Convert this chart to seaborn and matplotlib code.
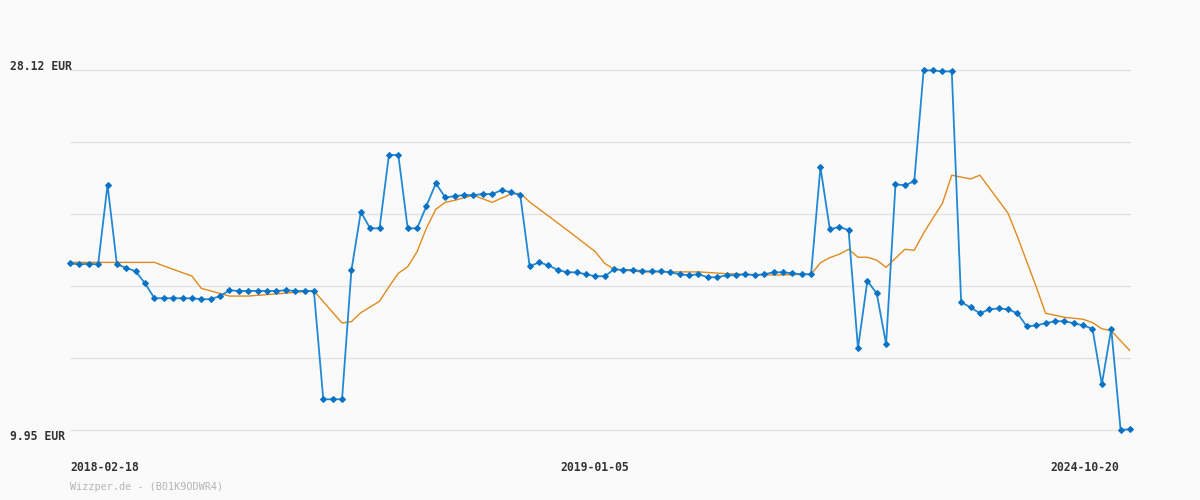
import seaborn as sns
import pandas as pd
import numpy as np
import matplotlib.pyplot as plt

#----- Data -----
price = [18.36, 18.31, 18.34, 18.31, 22.32, 18.31, 18.13, 17.96, 17.35, 16.60,
         16.60, 16.60, 16.60, 16.60, 16.55, 16.55, 16.71, 17.00, 16.97, 16.97,
         16.97, 16.97, 16.97, 17.00, 16.97, 16.97, 16.97, 11.50, 11.50, 11.50,
         18.01, 20.95, 20.13, 20.13, 23.83, 23.83, 20.13, 20.13, 21.26, 22.40,
         21.69, 21.75, 21.81, 21.80, 21.86, 21.86, 22.05, 21.96, 21.80, 18.21,
         18.41, 18.26, 18.03, 17.91, 17.91, 17.81, 17.71, 17.71, 18.06, 18.03,
         18.03, 17.96, 17.96, 17.96, 17.91, 17.81, 17.76, 17.81, 17.66, 17.66,
         17.76, 17.76, 17.81, 17.76, 17.81, 17.91, 17.91, 17.86, 17.81, 17.81,
         23.21, 20.08, 20.20, 20.04, 14.07, 17.47, 16.85, 14.28, 22.35, 22.30,
         22.50, 28.10, 28.10, 28.05, 28.05, 16.40, 16.14, 15.84, 16.04, 16.09,
         16.04, 15.84, 15.18, 15.23, 15.34, 15.44, 15.44, 15.34, 15.23, 15.06,
         12.26, 15.06, 9.95, 9.99]

# moving average, read at its visible vertices (index, value)
avg_idx = [0, 9, 10, 13, 14, 17, 19, 26, 29, 30, 31, 33, 34, 35, 36, 37, 38, 39, 40, 41,
           43, 45, 47, 48, 49, 53, 56, 57, 58, 61, 67, 70, 75, 79, 80, 81, 82, 83, 84, 85,
           86, 87, 88, 89, 90, 91, 92, 93, 94, 96, 97, 100, 101, 102, 103, 104, 106, 108,
           109, 110, 111, 113]
avg_val = [18.41, 18.41, 18.23, 17.72, 17.10, 16.71, 16.71, 16.97, 15.35, 15.42, 15.87,
           16.45, 17.18, 17.86, 18.19, 18.95, 20.15, 21.09, 21.44, 21.54, 21.80, 21.44,
           21.86, 21.90, 21.46, 20.04, 18.95, 18.36, 18.06, 17.93, 17.93, 17.84, 17.77,
           17.81, 18.39, 18.65, 18.82, 19.07, 18.67, 18.67, 18.52, 18.16, 18.62, 19.07,
           19.02, 19.89, 20.65, 21.39, 22.81, 22.62, 22.81, 20.89, 19.71, 18.44, 17.18,
           15.84, 15.64, 15.54, 15.37, 15.06, 14.96, 13.95]

y_min, y_max = 9.95, 28.12
y_labels = ["9.95 EUR", "28.12 EUR"]
x_labels = ["2018-02-18", "2019-01-05", "2024-10-20"]
x_label_idx = [0, 52.3, 104.5]
footer = "Wizzper.de - (B01K9ODWR4)"

df_price = pd.DataFrame({"idx": np.arange(len(price)), "price": price})
df_avg = pd.DataFrame({"idx": avg_idx, "avg": avg_val})

#----- Plot -----
sns.set_style("white")
bg = "#fafafa"
fig = plt.figure(figsize=(12, 5), dpi=100, facecolor=bg)
ax = fig.add_axes([70 / 1200, 70 / 500, 1060 / 1200, 360 / 500], facecolor=bg)

for v in np.linspace(y_min, y_max, 6):
    ax.axhline(v, color="#e2e2e2", lw=1, zorder=0, clip_on=False)

sns.lineplot(data=df_avg, x="idx", y="avg", color="#e08a1e", lw=1, ax=ax, zorder=2)
sns.lineplot(data=df_price, x="idx", y="price", color="#2288d4", lw=1.3, marker="D",
             markersize=3, markeredgewidth=0.8, markeredgecolor="#0a72c4",
             markerfacecolor="#0a72c4", ax=ax, zorder=3, clip_on=False)

ax.set_xlim(0, len(price) - 1)
ax.set_ylim(y_min, y_max)
ax.set_xticks([])
ax.set_yticks([])
ax.set_xlabel("")
ax.set_ylabel("")
for s in ax.spines.values():
    s.set_visible(False)

txt = dict(family="DejaVu Sans Mono", fontweight="bold", color="#333333", fontsize=8.3)
fig.text(10 / 1200, 1 - 67 / 500, y_labels[1], va="center", ha="left", **txt)
fig.text(10 / 1200, 1 - 437 / 500, y_labels[0], va="center", ha="left", **txt)
for lab, i in zip(x_labels, x_label_idx):
    ax.text(i, -0.103, lab, transform=ax.get_xaxis_transform(), ha="left", va="center", **txt)

fig.text(70 / 1200, 1 - 487 / 500, footer, family="DejaVu Sans Mono", color="#b4b4b4",
         fontsize=7.3, va="center", ha="left")

plt.savefig("out.png", dpi=100, facecolor=bg)
